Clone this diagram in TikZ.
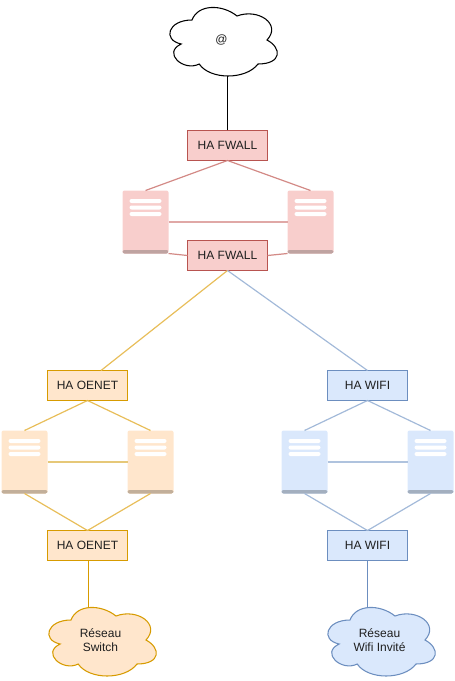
\documentclass[tikz,border=0pt]{standalone}
\usepackage{fontspec}
\setmainfont{Liberation Sans}
\usetikzlibrary{calc}
\definecolor{redS}{HTML}{B85450}\definecolor{redF}{HTML}{F8CECC}\definecolor{redB}{HTML}{BFA3A1}\definecolor{redL}{HTML}{D38A86}\definecolor{redM}{HTML}{E0A8A6}
\definecolor{oraS}{HTML}{D79B00}\definecolor{oraF}{HTML}{FFE6CC}\definecolor{oraB}{HTML}{C2AF9A}
\definecolor{yelL}{HTML}{E8BE5A}\definecolor{yelM}{HTML}{E6C878}
\definecolor{bluS}{HTML}{6C8EBF}\definecolor{bluF}{HTML}{DAE8FC}\definecolor{bluB}{HTML}{A3AFBF}\definecolor{bluL}{HTML}{A3BAD9}\definecolor{bluM}{HTML}{AFC3DE}
\newcommand{\cloudpath}{(30,20) .. controls (6,20) and (0,40) .. (19.2,44) .. controls (0,52.8) and (21.6,72) .. (37.2,64) .. controls (48,80) and (84,80) .. (96,64) .. controls (120,64) and (120,48) .. (105,40) .. controls (120,24) and (96,8) .. (75,16) .. controls (60,4) and (36,4) .. (30,20) -- cycle}
\tikzset{
  box/.style={draw=#1S,fill=#1F,line width=.85pt,minimum width=60pt,minimum height=22.5pt,inner sep=0pt,outer sep=0pt,font=\fontsize{9pt}{11pt}\selectfont,text=black!88},
  serverbox/.style={fill=#1F,rounded corners=1.5pt,minimum width=34.5pt,minimum height=47.25pt,inner sep=0pt,outer sep=0pt,
    path picture={
      \fill[#1B] ($(path picture bounding box.south west)+(0,-3.5)$) rectangle (path picture bounding box.south east);
      \foreach \a/\b in {8.5/12.5,15/19,21.5/25.5}{
        \fill[white] ($(path picture bounding box.north west)+(7,\a)$) rectangle ($(path picture bounding box.north west)+(39,\b)$);
      }
    }},
  cloudlabel/.style={minimum width=81pt,minimum height=#1,inner sep=0pt,outer sep=0pt,align=center,font=\fontsize{9pt}{10.8pt}\selectfont,text=black!88},
  link/.style={line width=.9pt},
  midlink/.style={line width=1.3pt}
}
\begin{document}
\begin{tikzpicture}[x=0.75pt,y=-0.75pt]
\useasboundingbox (0,0) rectangle (454,681);
% clouds
\begin{scope}[shift={(162,0)}]\draw[black,fill=white,line width=.8pt] \cloudpath;\end{scope}
\begin{scope}[shift={(41,600)}]\draw[oraS,fill=oraF,line width=.8pt] \cloudpath;\end{scope}
\begin{scope}[shift={(320,600)}]\draw[bluS,fill=bluF,line width=.8pt] \cloudpath;\end{scope}
\node[cloudlabel=54pt] (net) at (221.5,40) {@};
\node[cloudlabel=48pt] (sw) at (100.5,640) {Réseau\\Switch};
\node[cloudlabel=48pt] (wf) at (379.5,640) {Réseau\\Wifi Invité};
% boxes
\node[box=red] (fw1) at (227.5,145.5) {HA FWALL};
\node[box=red] (fw2) at (227.5,255.5) {HA FWALL};
\node[box=ora] (oe1) at (87.5,385.5) {HA OENET};
\node[box=ora] (oe2) at (87.5,545.5) {HA OENET};
\node[box=blu] (wi1) at (367.5,385.5) {HA WIFI};
\node[box=blu] (wi2) at (367.5,545.5) {HA WIFI};
% servers
\node[serverbox=red] (fl) at (145.5,222) {};
\node[serverbox=red] (fr) at (310.5,222) {};
\node[serverbox=ora] (ol) at (24.5,462) {};
\node[serverbox=ora] (or) at (150.5,462) {};
\node[serverbox=blu] (bl) at (304.5,462) {};
\node[serverbox=blu] (br) at (430.5,462) {};
\coordinate (oeEntry) at ($(oe1.north)+(13.5,0)$);
\coordinate (oeExit) at ($(oe2.south)+(1,0)$);
% connectors
\draw[link,black] (fw1.north) -- (fw1.north |- net.south);
\draw[link,oraS] (oeExit) -- (oeExit |- sw.north);
\draw[link,bluS] (wi2.south) -- (wi2.south |- wf.north);
\draw[link,redL] (fw1.south) -- (fl.north);
\draw[link,redL] (fw1.south) -- (fr.north);
\draw[midlink,redM] (fl.east) -- (fr.west);
\draw[link,redL] (fl.south east) -- (fw2.west);
\draw[link,redL] (fr.south west) -- (fw2.east);
\draw[link,yelL] (fw2.south) -- (oeEntry);
\draw[link,bluL] (fw2.south) -- (wi1.north);
\draw[link,yelL] (oe1.south) -- (ol.north);
\draw[link,yelL] (oe1.south) -- (or.north);
\draw[midlink,yelM] (ol.east) -- (or.west);
\draw[link,yelL] (ol.south) -- (oe2.north);
\draw[link,yelL] (or.south) -- (oe2.north);
\draw[link,bluL] (wi1.south) -- (bl.north);
\draw[link,bluL] (wi1.south) -- (br.north);
\draw[midlink,bluM] (bl.east) -- (br.west);
\draw[link,bluL] (bl.south) -- (wi2.north);
\draw[link,bluL] (br.south) -- (wi2.north);
\end{tikzpicture}
\end{document}
